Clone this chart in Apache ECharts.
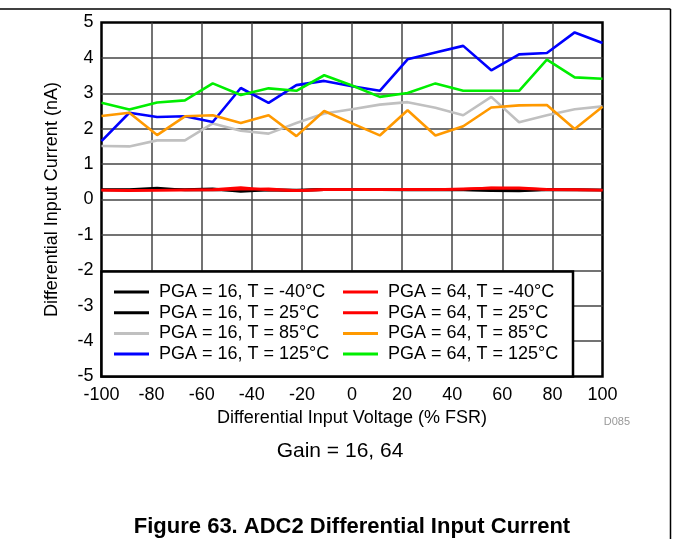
<!DOCTYPE html>
<html>
<head>
<meta charset="utf-8">
<script src="https://cdn.jsdelivr.net/npm/echarts@6/dist/echarts.min.js"></script>
<style>
  html, body { margin: 0; padding: 0; background: #fff; }
  #chart { width: 673px; height: 539px; }
</style>
</head>
<body>
<div id="chart"></div>
<script>
// Differential input voltage (% FSR), 19 sweep points
const voltages = [-100, -88.9, -77.8, -66.7, -55.6, -44.4, -33.3, -22.2, -11.1, 0,
  11.1, 22.2, 33.3, 44.4, 55.6, 66.7, 77.8, 88.9, 100];

// Differential input current (nA)
const pga16_m40 = [0.28, 0.28, 0.32, 0.27, 0.28, 0.26, 0.28, 0.27, 0.29, 0.29, 0.28, 0.29, 0.28, 0.28, 0.27, 0.26, 0.28, 0.28, 0.27];
const pga16_25 = [0.27, 0.27, 0.28, 0.28, 0.3, 0.23, 0.27, 0.25, 0.28, 0.28, 0.28, 0.27, 0.28, 0.27, 0.25, 0.24, 0.28, 0.27, 0.27];
const pga16_85 = [1.51, 1.5, 1.67, 1.67, 2.15, 1.94, 1.86, 2.16, 2.43, 2.55, 2.68, 2.75, 2.59, 2.38, 2.9, 2.18, 2.38, 2.55, 2.63];
const pga16_125 = [1.65, 2.45, 2.33, 2.35, 2.19, 3.15, 2.73, 3.23, 3.35, 3.2, 3.07, 3.96, 4.15, 4.34, 3.65, 4.1, 4.14, 4.72, 4.42];
const pga64_m40 = [0.27, 0.26, 0.26, 0.27, 0.28, 0.34, 0.27, 0.25, 0.28, 0.28, 0.28, 0.28, 0.28, 0.29, 0.33, 0.33, 0.29, 0.28, 0.27];
const pga64_25 = [0.26, 0.25, 0.26, 0.27, 0.27, 0.29, 0.3, 0.25, 0.28, 0.28, 0.28, 0.29, 0.28, 0.3, 0.32, 0.31, 0.28, 0.27, 0.26];
const pga64_85 = [2.36, 2.45, 1.82, 2.35, 2.38, 2.16, 2.38, 1.79, 2.5, 2.15, 1.81, 2.52, 1.81, 2.07, 2.6, 2.66, 2.67, 1.99, 2.62];
const pga64_125 = [2.73, 2.54, 2.74, 2.8, 3.28, 2.95, 3.14, 3.07, 3.51, 3.22, 2.9, 3.01, 3.28, 3.07, 3.07, 3.07, 3.95, 3.45, 3.41];

const xTicks = [-100, -80, -60, -40, -20, 0, 20, 40, 60, 80, 100];
const yTicks = [-5, -4, -3, -2, -1, 0, 1, 2, 3, 4, 5];

const seriesDefs = [
  { name: "PGA = 16, T = -40°C", values: pga16_m40, color: "#000000" },
  { name: "PGA = 16, T = 25°C", values: pga16_25, color: "#000000" },
  { name: "PGA = 16, T = 85°C", values: pga16_85, color: "#c0c0c0" },
  { name: "PGA = 16, T = 125°C", values: pga16_125, color: "#0000ff" },
  { name: "PGA = 64, T = -40°C", values: pga64_m40, color: "#ff0000" },
  { name: "PGA = 64, T = 25°C", values: pga64_25, color: "#ff0000" },
  { name: "PGA = 64, T = 85°C", values: pga64_85, color: "#ff9900" },
  { name: "PGA = 64, T = 125°C", values: pga64_125, color: "#00ee00" },
];

const font = '"Liberation Sans", Arial, sans-serif';
const chart = echarts.init(document.getElementById("chart"));

const series = seriesDefs.map((s) => ({
  name: s.name,
  type: "line",
  data: s.values.map((v, i) => [voltages[i], v]),
  symbol: "none",
  smooth: false,
  color: s.color,
  lineStyle: { color: s.color, width: 2.6 },
  animation: false,
}));

const legendBase = {
  orient: "vertical",
  top: 283,
  padding: 0,
  itemGap: 2.7,
  itemWidth: 35,
  itemHeight: 3,
  icon: "rect",
  selectedMode: false,
  z: 20,
  textStyle: { fontFamily: font, fontSize: 18, color: "#000", padding: [0, 0, 0, 5] },
};

const option = {
  animation: false,
  textStyle: { fontFamily: font },
  grid: {
    left: 101.5,
    right: 70.5,
    top: 22.5,
    bottom: 162.5,
    show: true,
    borderColor: "#000",
    borderWidth: 2.5,
    backgroundColor: "transparent",
  },
  legend: [
    Object.assign({}, legendBase, { left: 114, data: seriesDefs.slice(0, 4).map((s) => s.name) }),
    Object.assign({}, legendBase, { left: 343, data: seriesDefs.slice(4).map((s) => s.name) }),
  ],
  xAxis: {
    type: "value",
    min: xTicks[0],
    max: xTicks[xTicks.length - 1],
    interval: 20,
    name: "Differential Input Voltage (% FSR)",
    nameLocation: "middle",
    nameGap: 28,
    nameTextStyle: { fontSize: 18, color: "#000" },
    axisLine: { show: false },
    axisTick: { show: false },
    axisLabel: { fontSize: 18, color: "#000", margin: 10 },
    splitLine: { show: true, showMinLine: false, showMaxLine: false, lineStyle: { color: "#444", width: 1.5 } },
  },
  yAxis: {
    type: "value",
    min: yTicks[0],
    max: yTicks[yTicks.length - 1],
    interval: 1,
    name: "Differential Input Current (nA)",
    nameLocation: "middle",
    nameGap: 40,
    nameTextStyle: { fontSize: 18, color: "#000" },
    axisLine: { show: false },
    axisTick: { show: false },
    axisLabel: { fontSize: 18, color: "#000", margin: 8 },
    splitLine: { show: true, showMinLine: false, showMaxLine: false, lineStyle: { color: "#444", width: 1.5 } },
  },
  graphic: [
    // page frame
    { type: "line", shape: { x1: 0, y1: 9, x2: 670.5, y2: 9 }, style: { stroke: "#000", lineWidth: 1.5 }, z: 1 },
    { type: "line", shape: { x1: 670.5, y1: 9, x2: 670.5, y2: 539 }, style: { stroke: "#000", lineWidth: 1.5 }, z: 1 },
    // legend box
    {
      type: "rect",
      shape: { x: 101.5, y: 271.5, width: 471.5, height: 105 },
      style: { fill: "#fff", stroke: "#000", lineWidth: 2.5 },
      z: 10,
    },
    {
      type: "text",
      x: 630, y: 422,
      style: { text: "D085", fill: "#999", font: "11px " + font, textAlign: "right", textVerticalAlign: "middle" },
    },
    {
      type: "text",
      x: 340, y: 451,
      style: { text: "Gain = 16, 64", fill: "#000", font: "21px " + font, textAlign: "center", textVerticalAlign: "middle" },
    },
    {
      type: "text",
      x: 352, y: 527,
      style: { text: "Figure 63. ADC2 Differential Input Current", fill: "#000", font: "bold 22px " + font, textAlign: "center", textVerticalAlign: "middle" },
    },
  ],
  series: series,
};

chart.setOption(option);
</script>
</body>
</html>
